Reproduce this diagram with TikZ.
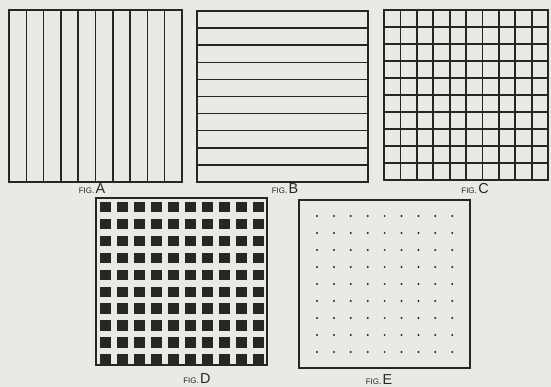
\documentclass[tikz,border=0pt]{standalone}
\usepackage{fontspec}
\setsansfont{Liberation Sans}
\usetikzlibrary{positioning}
\definecolor{PaperGray}{RGB}{234,233,227}
\definecolor{InkBlack}{RGB}{38,38,36}
\newcommand{\figlabel}[4]{%
  \node[InkBlack,font=\sffamily] (#1) at (#2,#3) {\footnotesize FIG.\,\Large #4};}

\begin{document}
\begin{tikzpicture}[x=1pt,y=-1pt]
  \fill[PaperGray] (0,0) rectangle (551,387);
  \useasboundingbox (0,0) rectangle (551,387);
  % fig A: vertical strips
  \draw[InkBlack,line width=1.5pt] (9,10) rectangle (182,182);
  \foreach \k in {1,...,9}
    \draw[InkBlack,line width=1.5pt] (9+17.3*\k,10)--(9+17.3*\k,182);
  \figlabel{labA}{92}{189}{A}
  % fig B: horizontal strips
  \draw[InkBlack,line width=1.5pt] (197,11) rectangle (368,182);
  \foreach \k in {1,...,9}
    \draw[InkBlack,line width=1.5pt] (197,11+17.1*\k)--(368,11+17.1*\k);
  \figlabel{labB}{285}{189}{B}
  % fig C: grid
  \draw[InkBlack,line width=1.8pt] (384,10) rectangle (548,180);
  \foreach \k in {1,...,9} {
    \draw[InkBlack,line width=1.8pt] (384+16.4*\k,10)--(384+16.4*\k,180);
    \draw[InkBlack,line width=1.8pt] (384,10+17*\k)--(548,10+17*\k);
  }
  \figlabel{labC}{475}{189}{C}
  % fig D: black squares
  \draw[InkBlack,line width=1.5pt] (96,198) rectangle (267,365);
  \foreach \i in {0,...,9}
    \foreach \j in {0,...,9}
      \fill[InkBlack] (100+17*\i,202+16.9*\j) rectangle ++(10.5,10.5);
  \figlabel{labD}{197}{379}{D}
  % fig E: dots
  \draw[InkBlack,line width=1.5pt] (299,200) rectangle (470,368);
  \foreach \i in {0,...,8}
    \foreach \j in {0,...,8}
      \fill[InkBlack] (317+16.9*\i,216+17*\j) circle (1.1);
  \figlabel{labE}{379}{380}{E}
\end{tikzpicture}
\end{document}
